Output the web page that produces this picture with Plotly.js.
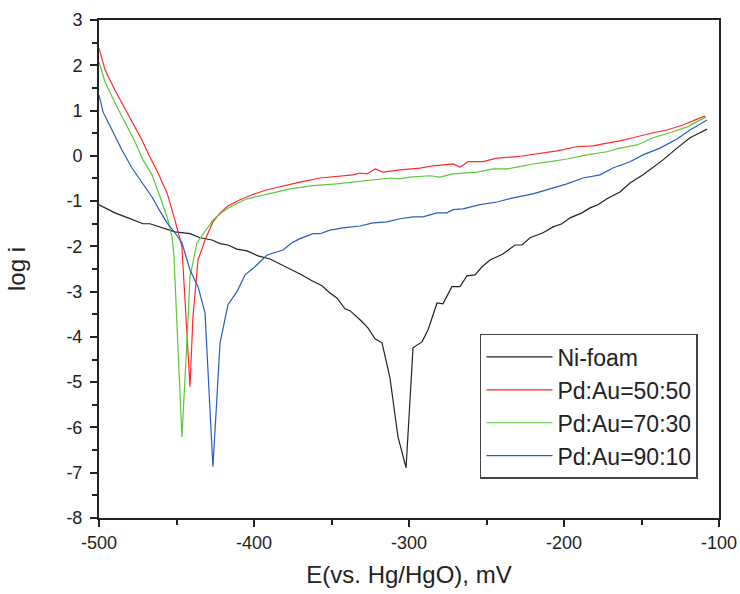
<!DOCTYPE html>
<html>
<head>
<meta charset="utf-8">
<script src="https://cdn.plot.ly/plotly-3.0.1.min.js"></script>
<style>html,body{margin:0;padding:0;background:#fff}#chart{width:740px;height:594px}</style>
</head>
<body>
<div id="chart"></div>
<script>
// Ni-foam
const niE = [-500,-489.7,-481.3,-471.6,-467.1,-458.7,-451.0,-441.3,-434.8,-427.1,-421.9,-416.8,-411.0,-404.5,-397.4,-389.7,-383.2,-376.8,-370.3,-362.6,-356.1,-351.0,-346.5,-341.3,-338.1,-331.6,-326.5,-321.9,-317.4,-312.3,-307.1,-301.9,-297.4,-291.6,-287.7,-281.9,-278.1,-272.3,-267.1,-262.6,-257.4,-252.9,-247.7,-239.4,-231.6,-227.1,-221.9,-213.5,-207.1,-201.3,-196.1,-188.4,-183.2,-178.1,-172.3,-163.9,-157.4,-149.0,-142.6,-136.1,-127.1,-118.7,-112.3,-107.7];
const niLogI = [-1.08,-1.26,-1.37,-1.50,-1.50,-1.59,-1.68,-1.72,-1.81,-1.86,-1.94,-1.97,-2.06,-2.10,-2.21,-2.28,-2.39,-2.50,-2.61,-2.76,-2.87,-3.03,-3.14,-3.38,-3.42,-3.62,-3.80,-4.04,-4.13,-4.90,-6.21,-6.89,-4.24,-4.11,-3.84,-3.25,-3.27,-2.89,-2.89,-2.65,-2.63,-2.45,-2.30,-2.17,-1.97,-1.97,-1.81,-1.70,-1.57,-1.50,-1.37,-1.26,-1.15,-1.08,-0.95,-0.80,-0.60,-0.42,-0.25,-0.09,0.17,0.40,0.51,0.59];

// Pd:Au=50:50
const pd50E = [-500,-496.1,-489.7,-481.9,-472.3,-468.4,-461.9,-456.1,-451.0,-446.5,-443.9,-441.3,-439.4,-436.1,-431.6,-426.5,-421.9,-416.8,-409.0,-401.3,-391.6,-381.3,-370.3,-357.4,-344.5,-336.1,-331.6,-327.1,-321.9,-316.8,-305.8,-292.9,-284.5,-271.6,-267.1,-261.9,-252.3,-243.2,-230.3,-217.4,-204.5,-191.6,-181.3,-172.3,-163.9,-155.5,-142.6,-133.5,-123.2,-114.2,-109.0];
const pd50LogI = [2.38,1.90,1.45,0.95,0.35,0.06,-0.38,-0.82,-1.42,-2.01,-3.56,-5.10,-3.56,-2.30,-1.86,-1.46,-1.26,-1.11,-0.97,-0.86,-0.75,-0.66,-0.58,-0.49,-0.44,-0.42,-0.38,-0.40,-0.29,-0.36,-0.31,-0.27,-0.22,-0.18,-0.25,-0.13,-0.13,-0.05,-0.02,0.04,0.11,0.20,0.22,0.28,0.33,0.40,0.51,0.57,0.68,0.81,0.88];

// Pd:Au=70:30
const pd70E = [-500,-496.1,-489.7,-483.2,-476.8,-471.6,-465.8,-460.6,-456.1,-452.9,-451.6,-449.0,-446.5,-443.2,-441.3,-436.8,-431.6,-426.5,-421.9,-415.5,-404.5,-396.1,-387.7,-376.8,-361.9,-346.5,-336.1,-320.6,-312.3,-305.8,-299.4,-286.5,-280.0,-271.6,-260.6,-256.1,-245.8,-236.8,-230.3,-220.0,-209.0,-198.1,-185.2,-172.3,-163.9,-152.9,-142.6,-131.6,-120.6,-114.2,-108.4];
const pd70LogI = [2.07,1.63,1.17,0.73,0.31,-0.09,-0.42,-0.91,-1.35,-1.79,-2.23,-4.28,-6.21,-4.06,-2.67,-1.92,-1.68,-1.42,-1.28,-1.13,-0.95,-0.89,-0.82,-0.73,-0.66,-0.62,-0.58,-0.53,-0.49,-0.51,-0.47,-0.44,-0.47,-0.40,-0.38,-0.36,-0.29,-0.29,-0.25,-0.18,-0.13,-0.07,0.02,0.09,0.17,0.24,0.40,0.51,0.64,0.75,0.86];

// Pd:Au=90:10
const pd90E = [-500,-497.4,-491.6,-485.2,-478.7,-472.3,-465.8,-461.9,-456.1,-451.0,-446.5,-441.3,-436.1,-431.6,-426.5,-421.9,-416.8,-411.0,-405.8,-399.4,-391.6,-381.3,-375.5,-370.3,-361.9,-357.4,-351.0,-342.6,-331.6,-323.2,-314.2,-305.8,-297.4,-291.0,-281.9,-275.5,-271.6,-265.2,-254.2,-243.2,-232.9,-220.0,-211.0,-198.1,-187.7,-176.8,-168.4,-157.4,-149.0,-138.1,-127.1,-118.7,-107.7];
const pd90LogI = [1.34,0.97,0.57,0.13,-0.27,-0.60,-0.91,-1.15,-1.48,-1.70,-1.92,-2.52,-2.89,-3.47,-6.87,-4.13,-3.29,-3.00,-2.63,-2.45,-2.19,-2.08,-1.92,-1.83,-1.72,-1.72,-1.64,-1.59,-1.55,-1.48,-1.46,-1.39,-1.35,-1.35,-1.26,-1.26,-1.19,-1.17,-1.08,-1.02,-0.93,-0.84,-0.75,-0.62,-0.49,-0.42,-0.27,-0.13,0.02,0.17,0.37,0.57,0.79];

const seriesNames = ['Ni-foam','Pd:Au=50:50','Pd:Au=70:30','Pd:Au=90:10'];
const xTickVals = [-500,-400,-300,-200,-100];
const yTickVals = [3,2,1,0,-1,-2,-3,-4,-5,-6,-7,-8];

const colors = ['#222222','#ff2a2a','#5cc83a','#2a5cc0'];
const xs = [niE, pd50E, pd70E, pd90E];
const ys = [niLogI, pd50LogI, pd70LogI, pd90LogI];

const FONT = 'Liberation Sans, Arial, sans-serif';
const traces = seriesNames.map((n,i)=>({
  x: xs[i], y: ys[i], name: n, type: 'scatter', mode: 'lines',
  line: {color: colors[i], width: 1.2}
}));

const axisCommon = {
  showline: true, linewidth: 2, linecolor: '#222', mirror: true,
  showgrid: false, zeroline: false,
  ticks: 'outside', ticklen: 7, tickwidth: 2, tickcolor: '#222',
  tickfont: {family: FONT, size: 18, color: '#222'},
  minor: {ticks: 'outside', ticklen: 5, tickwidth: 2, tickcolor: '#222', showgrid: false}
};

const layout = {
  width: 740, height: 594,
  margin: {l: 99, r: 21, t: 20, b: 76},
  paper_bgcolor: '#fff', plot_bgcolor: '#fff',
  showlegend: true,
  xaxis: Object.assign({}, axisCommon, {
    range: [-500, -100], tickvals: xTickVals, ticktext: xTickVals.map(String),
    minor: Object.assign({}, axisCommon.minor, {dtick: 50, tick0: -500}),
    title: {text: 'E(vs. Hg/HgO), mV', font: {family: FONT, size: 24, color: '#222'}, standoff: 15}
  }),
  yaxis: Object.assign({}, axisCommon, {
    range: [-8, 3], tickvals: yTickVals, ticktext: yTickVals.map(String),
    ticklabelstandoff: 4,
    minor: Object.assign({}, axisCommon.minor, {dtick: 0.5, tick0: 0}),
    title: {text: 'log i', font: {family: FONT, size: 24, color: '#222'}, standoff: 34}
  }),
  legend: {
    x: 0.6145, y: 0.3695, xanchor: 'left', yanchor: 'top',
    bordercolor: '#444', borderwidth: 1.5, bgcolor: '#fff',
    font: {family: FONT, size: 23, color: '#222'},
    itemwidth: 66, tracegroupgap: 0
  }
};

Plotly.newPlot('chart', traces, layout, {displayModeBar: false, staticPlot: true});
</script>
</body>
</html>
